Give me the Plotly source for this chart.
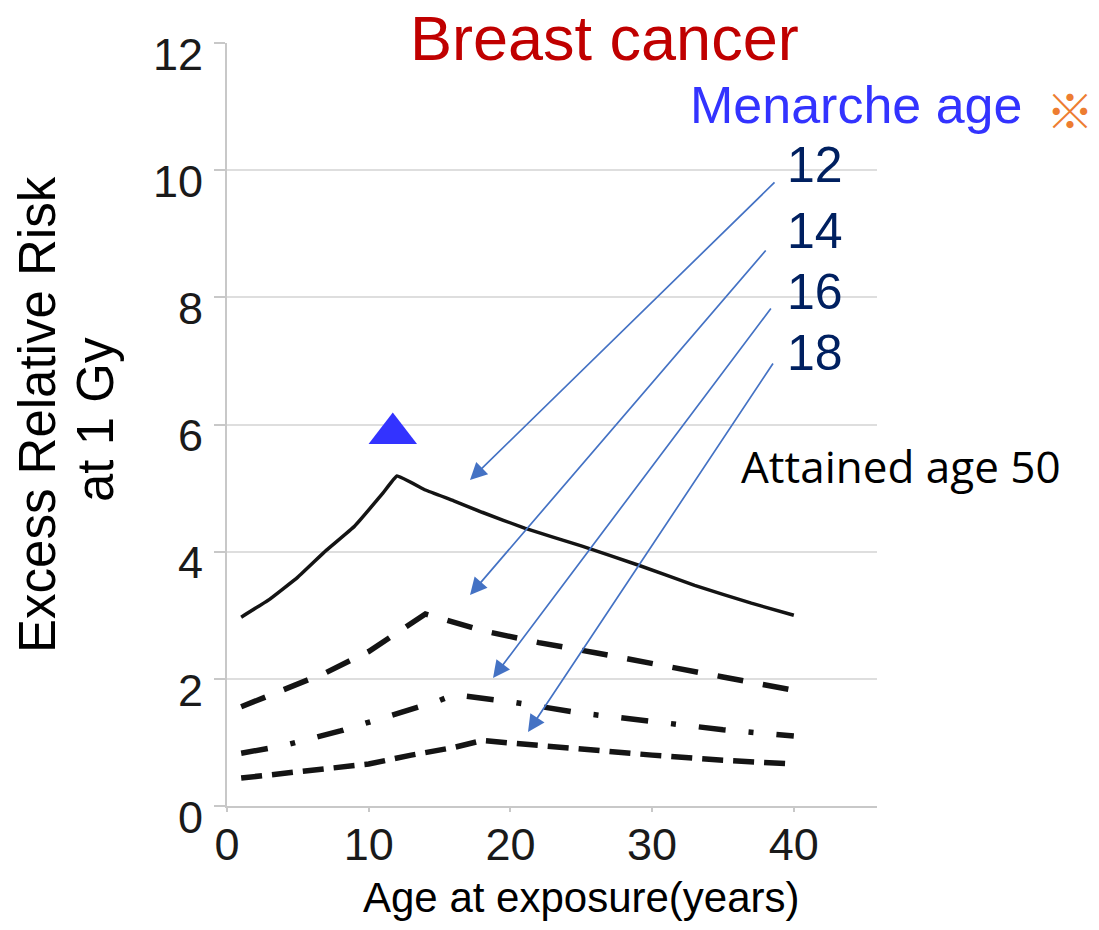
import plotly.graph_objects as go

# ---------------- data ----------------
age_exp_12 = [1, 3, 5, 7, 9, 11, 12, 14, 16, 18, 21, 25, 29, 33, 37, 40]
err_12 = [2.97, 3.25, 3.6, 4.02, 4.40, 4.92, 5.19, 4.97, 4.80, 4.62, 4.37, 4.09, 3.79, 3.47, 3.19, 3.0]

age_exp_14 = [1, 4, 7, 10, 12, 14, 18, 22, 26, 30, 35, 40]
err_14 = [1.56, 1.82, 2.10, 2.43, 2.72, 3.02, 2.76, 2.57, 2.41, 2.25, 2.03, 1.82]

age_exp_16 = [1, 4, 8, 12, 14, 15, 16, 20, 25, 30, 35, 40]
err_16 = [0.83, 0.95, 1.18, 1.45, 1.58, 1.66, 1.75, 1.64, 1.46, 1.33, 1.20, 1.10]

age_exp_18 = [1, 4, 7, 10, 13, 16, 18, 21, 25, 30, 35, 40]
err_18 = [0.44, 0.51, 0.57, 0.66, 0.80, 0.92, 1.03, 0.97, 0.89, 0.80, 0.72, 0.66]

peak_marker_x = [11.7]
peak_marker_y = [5.86]

x_ticks = [0, 10, 20, 30, 40]
y_ticks = [0, 2, 4, 6, 8, 10, 12]
menarche_labels = ["12", "14", "16", "18"]

# ---------------- layout geometry ----------------
W, H = 1099, 930
L, R, T, B = 227, 877, 43, 806  # plot area in px
XMAX = 45.87


def px_x(px):
    return (px - L) / (R - L)


def px_y(py):
    return (B - py) / (B - T)


def dx(px):
    return (px - L) / (R - L) * XMAX


def dy(py):
    return (B - py) / (B - T) * 12


fig = go.Figure()

line_col = "#141414"
fig.add_trace(go.Scatter(x=age_exp_12, y=err_12, mode="lines",
                         line=dict(color=line_col, width=3.5, shape="spline", smoothing=0.3)))
fig.add_trace(go.Scatter(x=age_exp_14, y=err_14, mode="lines",
                         line=dict(color=line_col, width=5.5, dash="26px,20px")))
fig.add_trace(go.Scatter(x=age_exp_16, y=err_16, mode="lines",
                         line=dict(color=line_col, width=5.5, dash="27px,23px,5px,23px")))
fig.add_trace(go.Scatter(x=age_exp_18, y=err_18, mode="lines",
                         line=dict(color=line_col, width=5.5, dash="21px,10px")))
fig.add_trace(go.Scatter(x=peak_marker_x, y=peak_marker_y, mode="markers",
                         marker=dict(symbol="triangle-up", size=42, color="#3333FF")))

# white strip behind the title that hides the top gridline there
shapes = [dict(type="rect", xref="paper", yref="paper", layer="above",
               x0=px_x(371), x1=px_x(837), y0=px_y(47), y1=px_y(39),
               fillcolor="white", line=dict(width=0))]

annotations = []
annotations.append(dict(text="Breast cancer", xref="paper", yref="paper",
                        x=px_x(604), y=px_y(38), xanchor="center", yanchor="middle",
                        showarrow=False,
                        font=dict(family="Liberation Sans, Arial", size=63, color="#C00000")))
annotations.append(dict(text="Menarche age", xref="paper", yref="paper",
                        x=px_x(856), y=px_y(105), xanchor="center", yanchor="middle",
                        showarrow=False,
                        font=dict(family="Liberation Sans, Arial", size=52, color="#3333FF")))
annotations.append(dict(text="※", xref="paper", yref="paper",
                        x=px_x(1070), y=px_y(108), xanchor="center", yanchor="middle",
                        showarrow=False,
                        font=dict(family="Noto Sans CJK JP", size=48, color="#ED7D31")))
label_y = [165, 231, 292, 353]
for lab, yy in zip(menarche_labels, label_y):
    annotations.append(dict(text=lab, xref="paper", yref="paper",
                            x=px_x(815), y=px_y(yy), xanchor="center", yanchor="middle",
                            showarrow=False,
                            font=dict(family="Liberation Sans, Arial", size=50, color="#002060")))
annotations.append(dict(text="Attained age 50", xref="paper", yref="paper",
                        x=px_x(901), y=px_y(466), xanchor="center", yanchor="middle",
                        showarrow=False,
                        font=dict(family="Open Sans", size=44, color="#000000")))
# arrows
heads = [(470, 480), (470, 595), (493, 678), (528, 732)]
tails = [(776, 181), (767, 249), (772, 307), (774, 362)]
for (hx, hy), (tx, ty) in zip(heads, tails):
    annotations.append(dict(text="", x=dx(hx), y=dy(hy), ax=dx(tx), ay=dy(ty),
                            xref="x", yref="y", axref="x", ayref="y",
                            showarrow=True, arrowhead=2, arrowsize=2.0, arrowwidth=1.7,
                            arrowcolor="#4472C4", standoff=0))
# y axis titles (two lines)
annotations.append(dict(text="Excess Relative Risk", xref="paper", yref="paper",
                        x=px_x(37), y=px_y(415), xanchor="center", yanchor="middle",
                        textangle=-90, showarrow=False,
                        font=dict(family="Liberation Sans, Arial", size=51, color="#000000")))
annotations.append(dict(text="at 1 Gy", xref="paper", yref="paper",
                        x=px_x(95), y=px_y(420), xanchor="center", yanchor="middle",
                        textangle=-90, showarrow=False,
                        font=dict(family="Liberation Sans, Arial", size=51, color="#000000")))
# x axis title
annotations.append(dict(text="Age at exposure(years)", xref="paper", yref="paper",
                        x=px_x(581), y=px_y(897), xanchor="center", yanchor="middle",
                        showarrow=False,
                        font=dict(family="Liberation Sans, Arial", size=42, color="#000000")))

fig.update_layout(
    width=W, height=H,
    margin=dict(l=L, r=W - R, t=T, b=H - B, pad=0),
    paper_bgcolor="white", plot_bgcolor="white",
    showlegend=False,
    shapes=shapes,
    annotations=annotations,
    xaxis=dict(range=[0, XMAX], tickvals=x_ticks, showgrid=False, zeroline=False,
               showline=True, linecolor="#c8c8c8", linewidth=2,
               ticks="outside", ticklen=4, tickcolor="#c8c8c8", tickwidth=2,
               ticklabelstandoff=-6,
               tickfont=dict(family="Liberation Sans, Arial", size=45, color="#1a1a1a")),
    yaxis=dict(range=[0, 12], tickvals=y_ticks, showgrid=True, gridcolor="#dedede", gridwidth=2,
               zeroline=False, showline=True, linecolor="#c8c8c8", linewidth=2,
               ticks="outside", ticklen=11, tickcolor="#c8c8c8", tickwidth=2,
               ticklabelshift=11, ticklabelstandoff=2,
               tickfont=dict(family="Liberation Sans, Arial", size=45, color="#1a1a1a")),
)

fig.write_html("out.html", config={"displayModeBar": False},
               post_script="document.body.style.margin='0';")
